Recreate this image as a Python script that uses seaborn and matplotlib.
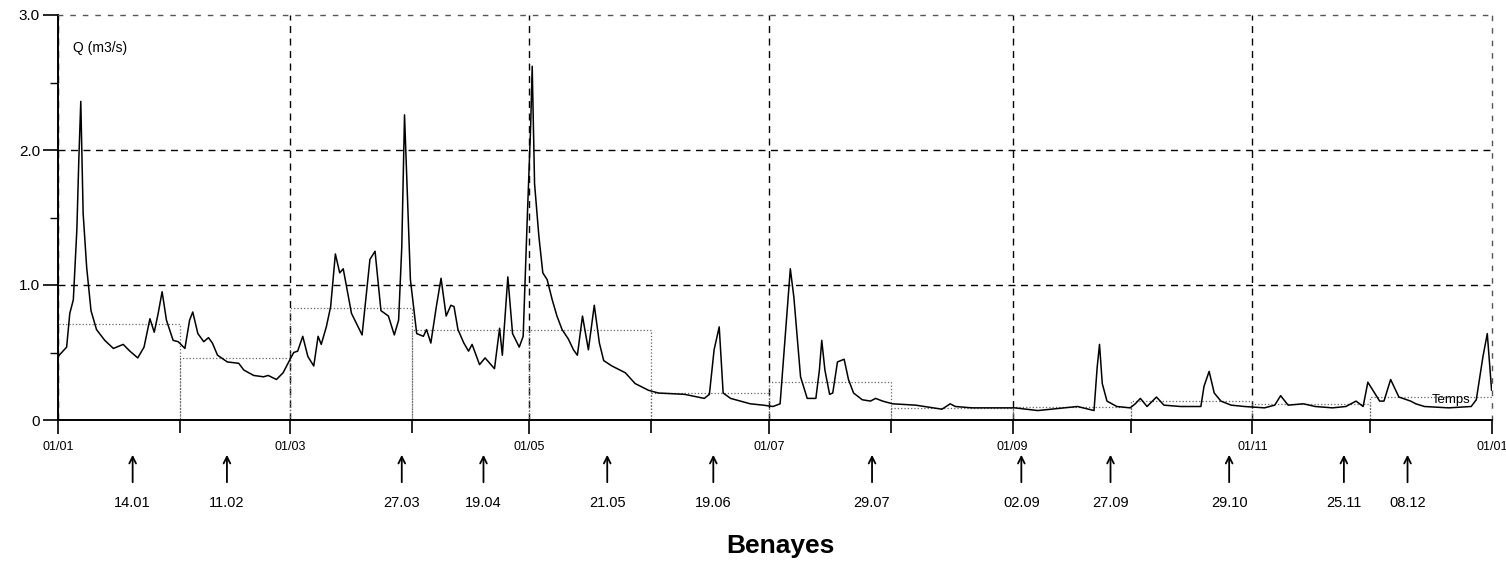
"""
Benayes hydrograph: daily discharge over one year, monthly means,
and the sampling dates marked with arrows under the time axis.
"""

import matplotlib
matplotlib.use("Agg")
import matplotlib.pyplot as plt
import matplotlib.transforms as mtransforms
from matplotlib.ticker import FixedLocator, MultipleLocator
import pandas as pd
import seaborn as sns

# discharge trace (day of year, Q in m3/s)
DAYS = [
    0, 2.2, 3.0, 3.9, 4.8, 5.3, 5.8, 6.4, 7.3, 8.4, 9.8, 11.9, 14.1, 16.6, 18.3,
    20.3, 21.9, 23.4, 24.5, 25.5, 26.5, 27.6, 29.3, 30.6, 32.3, 33.5, 34.3, 35.6,
    37.1, 38.3, 39.3, 40.6, 43.1, 46.0, 47.3, 49.8, 52.3, 53.5, 55.6, 57.3, 58.9,
    60.0, 61.0, 62.3, 63.6, 65.1, 66.2, 67.0, 68.3, 69.4, 70.6, 71.7, 72.6, 74.7,
    77.4, 79.4, 80.7, 82.2, 84.1, 85.6, 86.7, 87.5, 88.2, 88.8, 89.7, 91.3, 93.0,
    93.8, 94.9, 96.3, 97.5, 98.8, 100.0, 100.8, 101.8, 103.3, 104.5, 105.4, 107.3,
    108.7, 111.1, 112.4, 113.1, 114.5, 115.7, 117.4, 118.4, 119.4, 120.3, 120.7,
    121.3, 122.4, 123.4, 124.5, 125.8, 127.0, 128.3, 129.9, 131.2, 132.2, 133.5,
    135.0, 136.5, 137.8, 138.9, 141.0, 144.4, 146.9, 150.3, 152.8, 159.5, 164.5,
    165.8, 167.0, 168.3, 169.3, 171.2, 176.2, 179.5, 182.0, 183.8, 185.1, 186.4,
    187.3, 189.0, 190.7, 192.9, 193.8, 194.4, 195.2, 196.4, 197.2, 198.4, 200.1,
    201.2, 202.5, 204.7, 206.8, 208.1, 209.9, 212.4, 218.3, 225.0, 227.1, 228.4,
    232.6, 239.3, 243.5, 249.4, 259.5, 263.7, 264.5, 265.1, 265.8, 267.0, 269.5,
    272.9, 274.2, 275.5, 277.2, 279.6, 281.5, 285.7, 290.9, 291.7, 293.0, 294.3,
    296.0, 298.6, 302.0, 307.1, 309.7, 311.2, 313.1, 317.0, 320.0, 324.4, 327.8,
    330.4, 332.2, 333.4, 336.4, 337.5, 339.2, 341.3, 344.3, 345.6, 347.8, 354.0,
    359.7, 361.0, 362.7, 363.8, 364.9,
]
FLOW = [
    0.47, 0.54, 0.79, 0.89, 1.41, 1.93, 2.36, 1.53, 1.13, 0.81, 0.67, 0.59, 0.53, 0.56, 0.51,
    0.46, 0.54, 0.75, 0.65, 0.79, 0.95, 0.74, 0.59, 0.58, 0.53, 0.74, 0.80, 0.64,
    0.58, 0.61, 0.57, 0.48, 0.43, 0.42, 0.37, 0.33, 0.32, 0.33, 0.30, 0.35, 0.44,
    0.50, 0.51, 0.62, 0.47, 0.40, 0.62, 0.56, 0.69, 0.84, 1.23, 1.09, 1.12, 0.79,
    0.63, 1.19, 1.25, 0.81, 0.77, 0.63, 0.74, 1.28, 2.26, 1.78, 1.04, 0.64, 0.62,
    0.67, 0.57, 0.84, 1.05, 0.77, 0.85, 0.84, 0.67, 0.57, 0.51, 0.56, 0.41,
    0.46, 0.38, 0.68, 0.48, 1.06, 0.64, 0.54, 0.62, 1.46, 2.17, 2.62,
    1.75, 1.36, 1.09, 1.04, 0.89, 0.77, 0.67, 0.60, 0.52, 0.48, 0.77,
    0.52, 0.85, 0.57, 0.44, 0.40, 0.35, 0.27, 0.22, 0.20, 0.19, 0.16,
    0.19, 0.52, 0.69, 0.20, 0.16, 0.12, 0.11, 0.10, 0.12, 0.62, 1.12,
    0.91, 0.32, 0.16, 0.16, 0.37, 0.59, 0.37, 0.19, 0.20, 0.43, 0.45,
    0.30, 0.20, 0.15, 0.14, 0.16, 0.14, 0.12, 0.11, 0.08, 0.12, 0.10,
    0.09, 0.09, 0.09, 0.07, 0.10, 0.07, 0.39, 0.56, 0.27, 0.14, 0.10,
    0.09, 0.12, 0.16, 0.10, 0.17, 0.11, 0.10, 0.10, 0.25, 0.36, 0.20,
    0.14, 0.11, 0.10, 0.09, 0.11, 0.18, 0.11, 0.12, 0.10, 0.09, 0.10,
    0.14, 0.10, 0.28, 0.14, 0.14, 0.30, 0.17, 0.14, 0.12, 0.10, 0.09,
    0.10, 0.15, 0.47, 0.64, 0.22,
]

# monthly mean discharge (dotted steps)
MONTH_START = [0, 31, 59, 90, 120, 151, 181, 212, 243, 273, 304, 334]
MONTH_LEN = [31, 28, 31, 30, 31, 30, 31, 31, 30, 31, 30, 31]
MONTH_MEAN = [0.71, 0.46, 0.83, 0.67, 0.67, 0.20, 0.28, 0.09, 0.10, 0.14, 0.12, 0.17]

MAJOR_TICKS = [0, 59, 120, 181, 243, 304, 365]
MAJOR_LABELS = ["01/01", "01/03", "01/05", "01/07", "01/09", "01/11", "01/01"]
MINOR_TICKS = [31, 90, 151, 212, 273, 334]

# sampling campaigns (arrow position on the time axis, label)
SAMPLE_DAYS = [19, 43, 87.5, 108.3, 139.8, 166.8, 207.2, 245.2, 267.9, 298.1, 327.3, 343.5]
SAMPLE_LABELS = ["14.01", "11.02", "27.03", "19.04", "21.05", "19.06",
                 "29.07", "02.09", "27.09", "29.10", "25.11", "08.12"]

W, H = 1506, 570


def main():
    sns.set_theme(style="white", rc={"text.color": "black",
                                     "xtick.color": "black",
                                     "ytick.color": "black"})
    plt.rcParams["font.family"] = ["Liberation Sans", "DejaVu Sans"]

    fig = plt.figure(figsize=(W / 100, H / 100), dpi=100)
    ax = fig.add_axes([58 / W, 1 - 420 / H, (1492 - 58) / W, (420 - 15) / H])

    # monthly means drawn as open dotted bars
    ax.bar(MONTH_START, MONTH_MEAN, width=MONTH_LEN, align="edge", fill=False,
           edgecolor="#666666", linestyle=":", linewidth=0.9, zorder=1)

    df = pd.DataFrame({"day": DAYS, "q": FLOW})
    sns.lineplot(data=df, x="day", y="q", sort=False, estimator=None,
                 color="black", linewidth=1.1, ax=ax, zorder=3)

    ax.set_xlim(0, 365)
    ax.set_ylim(0, 3.0)
    ax.set_xlabel("")
    ax.set_ylabel("")

    ax.xaxis.set_major_locator(FixedLocator(MAJOR_TICKS))
    ax.set_xticklabels(MAJOR_LABELS)
    ax.xaxis.set_minor_locator(FixedLocator(MINOR_TICKS))
    ax.set_yticks([0, 1, 2, 3])
    ax.set_yticklabels(["0", "1.0", "2.0", "3.0"])
    ax.yaxis.set_minor_locator(MultipleLocator(0.5))

    ax.tick_params(axis="x", which="major", direction="out", length=10, width=1.2,
                   labelsize=9, pad=5, bottom=True, color="black")
    ax.tick_params(axis="x", which="minor", direction="out", length=9, width=1.2,
                   bottom=True, color="black")
    ax.tick_params(axis="y", which="major", direction="out", length=11, width=1.2,
                   labelsize=11, pad=2, left=True, color="black")
    ax.tick_params(axis="y", which="minor", direction="out", length=6, width=1.0,
                   left=True, color="black")

    ax.grid(True, which="major", color="black", linestyle=(0, (5, 4)), linewidth=1.0)
    ax.set_axisbelow(True)
    # the frame edges carry their own lighter dashes
    ax.get_ygridlines()[-1].set_visible(False)
    ax.get_xgridlines()[-1].set_visible(False)

    for side in ("left", "bottom"):
        ax.spines[side].set_color("black")
        ax.spines[side].set_linewidth(1.4)
    for side in ("top", "right"):
        ax.spines[side].set_color("#555555")
        ax.spines[side].set_linestyle((0, (3, 6)))
        ax.spines[side].set_linewidth(1.0)

    ax.text(0.0105, 0.918, "Q (m3/s)", transform=ax.transAxes, fontsize=10,
            ha="left", va="center")
    ax.text(354.5, 0.15, "Temps", fontsize=9.5, ha="center", va="center", zorder=4)

    # sampling arrows below the time axis
    trans = mtransforms.blended_transform_factory(ax.transData, fig.transFigure)
    for d, lab in zip(SAMPLE_DAYS, SAMPLE_LABELS):
        ax.annotate("", xy=(d, 1 - 452 / H), xycoords=trans,
                    xytext=(d, 1 - 485 / H), textcoords=trans,
                    arrowprops=dict(arrowstyle="->", color="black", lw=1.3,
                                    mutation_scale=12),
                    annotation_clip=False)
        ax.text(d, 1 - 503 / H, lab, transform=trans, ha="center", va="center",
                fontsize=10.5)

    fig.text(780 / W, 1 - 546 / H, "Benayes", ha="center", va="center",
             fontsize=19, fontweight="bold", color="black")

    fig.savefig("out.png", dpi=100)
    plt.close(fig)


if __name__ == "__main__":
    main()
